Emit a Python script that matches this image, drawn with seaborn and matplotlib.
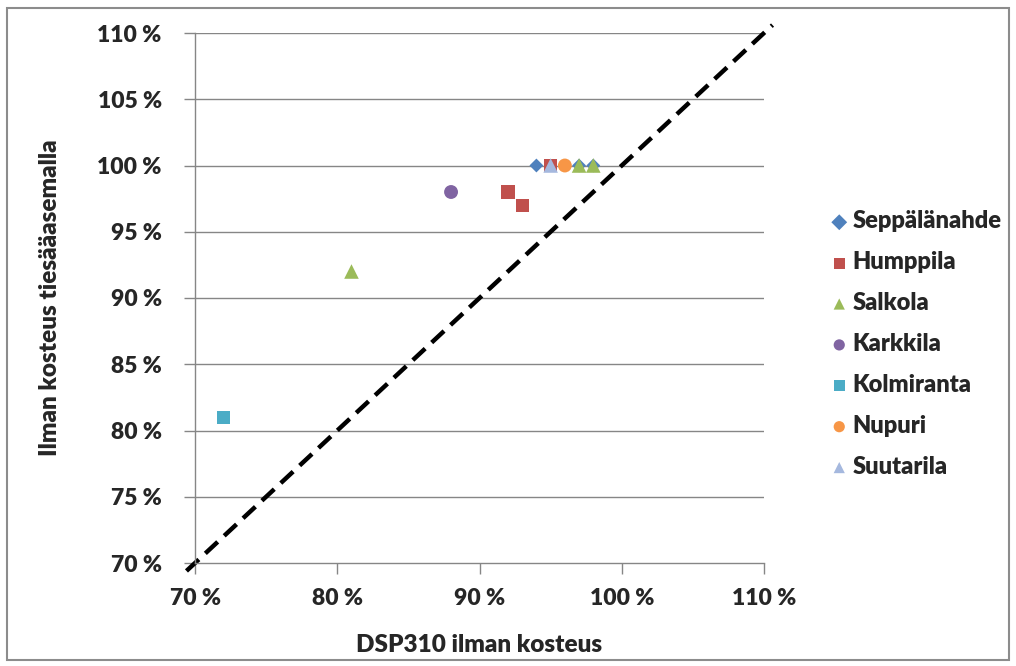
import matplotlib
matplotlib.use("Agg")
import matplotlib.pyplot as plt
import seaborn as sns
import pandas as pd
from matplotlib.patches import Rectangle

# Data (% values)
stations = ["Seppälänahde", "Humppila", "Salkola", "Karkkila", "Kolmiranta", "Nupuri", "Suutarila"]
seppalanahde_x = [94, 97, 98]
seppalanahde_y = [100, 100, 100]
humppila_x = [92, 93, 95]
humppila_y = [98, 97, 100]
salkola_x = [81, 97, 98]
salkola_y = [92, 100, 100]
karkkila_x = [88]
karkkila_y = [98]
kolmiranta_x = [72]
kolmiranta_y = [81]
nupuri_x = [96]
nupuri_y = [100]
suutarila_x = [95]
suutarila_y = [100]
ref_line = [69.4, 110.6]
x_ticks = [70, 80, 90, 100, 110]
y_ticks = [70, 75, 80, 85, 90, 95, 100, 105, 110]

colors = ["#4F81BD", "#C0504D", "#9BBB59", "#8064A2", "#4BACC6", "#F79646", "#A5B8DE"]
markers = ["D", "s", "^", "o", "s", "o", "^"]
sizes = [50, 90, 110, 100, 90, 100, 110]

xs = [seppalanahde_x, humppila_x, salkola_x, karkkila_x, kolmiranta_x, nupuri_x, suutarila_x]
ys = [seppalanahde_y, humppila_y, salkola_y, karkkila_y, kolmiranta_y, nupuri_y, suutarila_y]
rows = []
for name, xv, yv in zip(stations, xs, ys):
    for a, b in zip(xv, yv):
        rows.append({"station": name, "x": a, "y": b})
df = pd.DataFrame(rows)

sns.set_style("white")
plt.rcParams["font.family"] = ["Lato", "DejaVu Sans"]
plt.rcParams["font.weight"] = "bold"

fig = plt.figure(figsize=(10.16, 6.66), dpi=100)
ax = fig.add_axes([195/1016, 1 - 563/666, (764-195)/1016, (563-33)/666])

# figure border
fig.patches.append(Rectangle((7/1016, 1 - 660/666), (1009-7)/1016, (660-8)/666,
                             transform=fig.transFigure, fill=False,
                             edgecolor="#8C8C8C", linewidth=1.5, zorder=-1))

for yv in y_ticks[1:]:
    ax.axhline(yv, color="#868686", linewidth=1.0, zorder=0)

ax.plot(ref_line, ref_line, color="black", linestyle=(0, (3.8, 2.0)), linewidth=3.2,
        zorder=1, clip_on=False)

for i, (name, c, m, s) in enumerate(zip(stations, colors, markers, sizes)):
    sub = df[df["station"] == name]
    sns.scatterplot(data=sub, x="x", y="y", ax=ax, color=c, marker=m, s=s,
                    edgecolor="none", label=name, zorder=3 + i * 0.01, clip_on=False)

ax.set_xlim(70, 110)
ax.set_ylim(70, 110)
ax.set_xticks(x_ticks)
ax.set_yticks(y_ticks)
ax.set_xticklabels([f"{v} %" for v in x_ticks], fontsize=16.5, fontweight="heavy")
ax.set_yticklabels([f"{v} %" for v in y_ticks], fontsize=16.5, fontweight="heavy")
ax.tick_params(axis="both", direction="out", length=8, width=1.0, color="#868686",
               left=True, bottom=True)
ax.tick_params(axis="x", pad=10)
ax.tick_params(axis="y", pad=16)

for sp in ["top", "right"]:
    ax.spines[sp].set_visible(False)
for sp in ["left", "bottom"]:
    ax.spines[sp].set_color("#868686")
    ax.spines[sp].set_linewidth(1.0)

ax.set_xlabel("DSP310 ilman kosteus", fontsize=17.5, fontweight="heavy", labelpad=18)
ax.set_ylabel("Ilman kosteus tiesääasemalla", fontsize=17.5, fontweight="heavy", labelpad=26)

leg = ax.legend(loc="upper left", bbox_to_anchor=(818/1016, 1 - 201/666),
                bbox_transform=fig.transFigure, frameon=False,
                prop={"size": 17, "weight": "heavy"}, labelspacing=0.8,
                handletextpad=0.05, handlelength=1.0, borderaxespad=0)
for h in leg.legend_handles:
    try:
        h.set_sizes([65])
    except Exception:
        pass

fig.savefig("out.png", dpi=100)
